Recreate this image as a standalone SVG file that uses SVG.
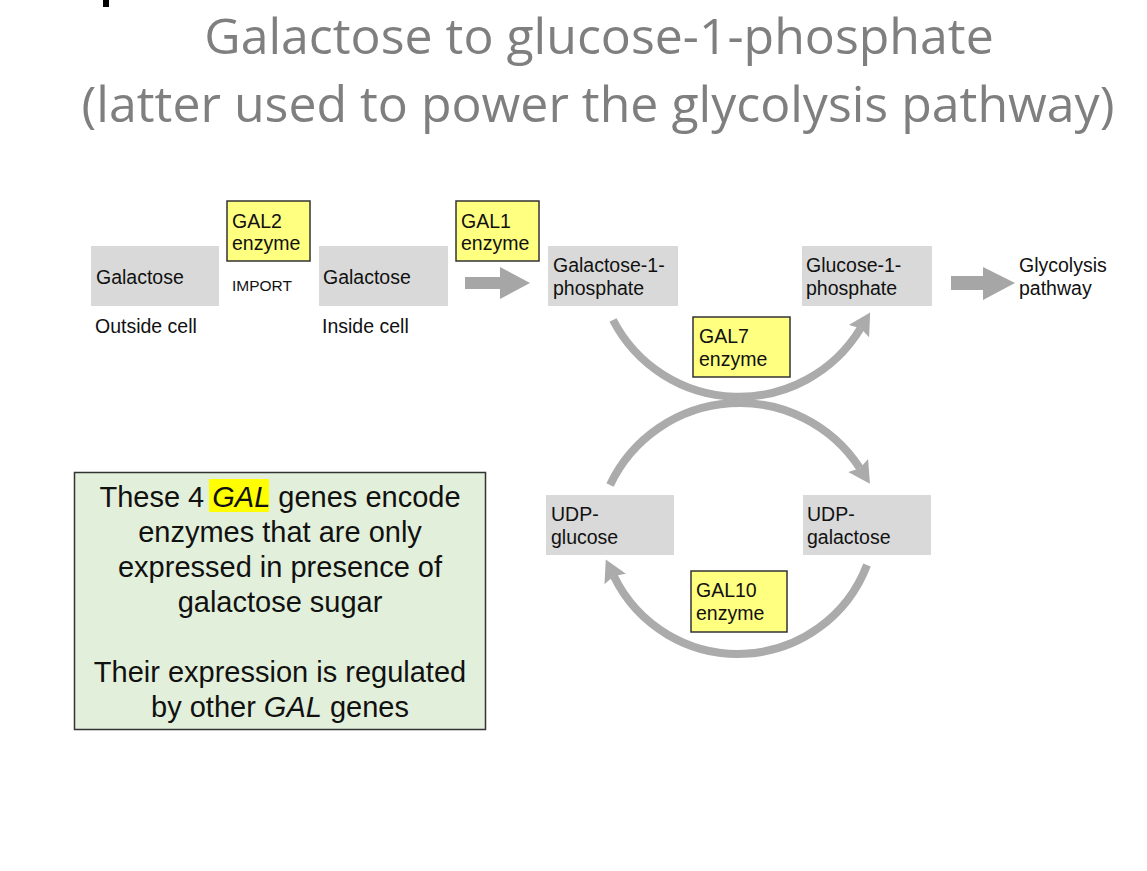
<svg xmlns="http://www.w3.org/2000/svg" width="1147" height="871" viewBox="0 0 1147 871">
<style>
.t{font-family:"Liberation Sans",Arial,sans-serif;font-size:19.5px;fill:#111}
.sm{font-family:"Liberation Sans",Arial,sans-serif;font-size:15.5px;fill:#111}
.title{font-family:"Open Sans","Noto Sans",sans-serif;font-size:50px;fill:#7f7f7f;text-anchor:middle}
.mol{fill:#d9d9d9}
.enz{fill:#ffff80;stroke:#333;stroke-width:1.5}
.curve{fill:none;stroke:#ababab;stroke-width:8}
.sarrow{fill:#a6a6a6}
.note{font-family:"Liberation Sans",Arial,sans-serif;font-size:29px;fill:#111;text-anchor:middle}
</style>
<defs>
<marker id="ah" markerUnits="userSpaceOnUse" markerWidth="24" markerHeight="26" viewBox="0 -12 22 24" refX="3" refY="0" orient="auto">
<path d="M0,-11 L20,0 L0,11 L3,0 z" fill="#ababab"/>
</marker>
</defs>
<rect width="1147" height="871" fill="#fff"/>
<rect x="103" y="0" width="6" height="7" fill="#000"/>
<g id="title">
<text class="title" x="599" y="54">Galactose to glucose-1-phosphate</text>
<text class="title" x="598" y="122">(latter used to power the glycolysis pathway)</text>
</g>
<g id="connectors">
<polygon class="sarrow" points="465,277 500,277 500,267 530,283 500,299 500,289 465,289"/>
<polygon class="sarrow" points="951,276 983,276 983,267 1015,283 983,300 983,290 951,290"/>
<path class="curve" d="M613,320 A142,142 0 0 0 860.6,328.3" marker-end="url(#ah)"/>
<path class="curve" d="M610,485 A143.5,143.5 0 0 1 859.9,468.2" marker-end="url(#ah)"/>
<path class="curve" d="M867,565 A138,138 0 0 1 613.8,576.1" marker-end="url(#ah)"/>
</g>
<g id="galactose-out">
<rect class="mol" x="91" y="246" width="128" height="60"/>
<text class="t" x="96" y="284">Galactose</text>
<text class="t" x="95" y="333">Outside cell</text>
</g>
<g id="gal2">
<rect class="enz" x="227" y="201" width="83" height="60"/>
<text class="t" x="232" y="228">GAL2</text>
<text class="t" x="232" y="250">enzyme</text>
<text class="sm" x="232" y="291">IMPORT</text>
</g>
<g id="galactose-in">
<rect class="mol" x="319" y="246" width="129" height="60"/>
<text class="t" x="323" y="284">Galactose</text>
<text class="t" x="322" y="333">Inside cell</text>
</g>
<g id="gal1">
<rect class="enz" x="456" y="201" width="83" height="60"/>
<text class="t" x="461" y="228">GAL1</text>
<text class="t" x="461" y="250">enzyme</text>
</g>
<g id="gal1p">
<rect class="mol" x="548" y="246" width="130" height="60"/>
<text class="t" x="553" y="272">Galactose-1-</text>
<text class="t" x="553" y="295">phosphate</text>
</g>
<g id="glc1p">
<rect class="mol" x="802" y="246" width="130" height="60"/>
<text class="t" x="806" y="272">Glucose-1-</text>
<text class="t" x="806" y="295">phosphate</text>
</g>
<g id="glycolysis">
<text class="t" x="1019" y="272">Glycolysis</text>
<text class="t" x="1019" y="295">pathway</text>
</g>
<g id="gal7">
<rect class="enz" x="693" y="317" width="97" height="60"/>
<text class="t" x="699" y="343">GAL7</text>
<text class="t" x="699" y="366">enzyme</text>
</g>
<g id="udp-glucose">
<rect class="mol" x="546" y="495" width="128" height="60"/>
<text class="t" x="551" y="521">UDP-</text>
<text class="t" x="551" y="544">glucose</text>
</g>
<g id="udp-galactose">
<rect class="mol" x="803" y="495" width="128" height="60"/>
<text class="t" x="807" y="521">UDP-</text>
<text class="t" x="807" y="544">galactose</text>
</g>
<g id="gal10">
<rect class="enz" x="691" y="571" width="96" height="61"/>
<text class="t" x="696" y="597">GAL10</text>
<text class="t" x="696" y="620">enzyme</text>
</g>
<g id="note">
<rect x="74.5" y="472.5" width="411" height="257" fill="#e2efda" stroke="#333" stroke-width="1.5"/>
<rect x="209" y="479" width="60" height="33" fill="#ffff00"/>
<text class="note" x="280" y="507">These 4 <tspan font-style="italic">GAL</tspan> genes encode</text>
<text class="note" x="280" y="542">enzymes that are only</text>
<text class="note" x="280" y="577">expressed in presence of</text>
<text class="note" x="280" y="612">galactose sugar</text>
<text class="note" x="280" y="682">Their expression is regulated</text>
<text class="note" x="280" y="717">by other <tspan font-style="italic">GAL</tspan> genes</text>
</g>
</svg>
